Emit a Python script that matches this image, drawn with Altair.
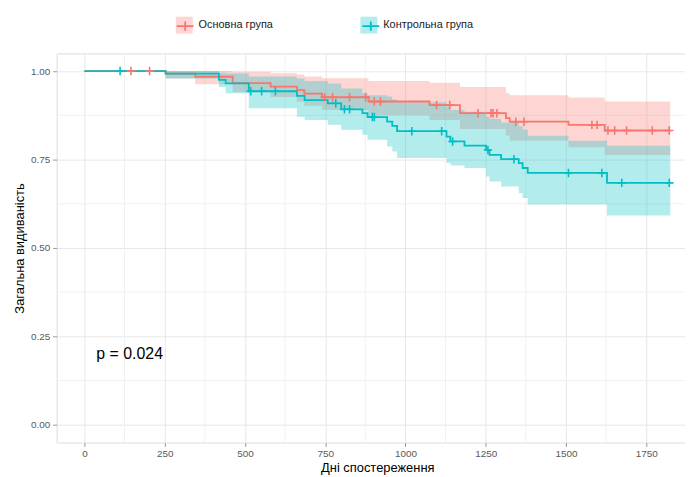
import altair as alt
import pandas as pd

# ---------------- data ----------------
GROUPS = ["Основна група", "Контрольна група"]
COLORS = ["#F8766D", "#00BFC4"]

# Основна група (red): step times, survival, confidence band
RED_T = [0, 253, 345, 462, 580, 662, 685, 740, 885, 1075, 1170, 1313, 1325, 1508, 1621, 1825]
RED_S = [1.0, 0.993, 0.984, 0.966, 0.956, 0.946, 0.936, 0.926, 0.914, 0.904, 0.881, 0.867, 0.857, 0.848, 0.832, 0.832]
RED_LO = [1.0, 0.979, 0.963, 0.940, 0.927, 0.913, 0.902, 0.890, 0.875, 0.862, 0.836, 0.818, 0.803, 0.785, 0.763, 0.763]
RED_HI = [1.0, 1.0, 1.0, 0.998, 0.994, 0.990, 0.985, 0.980, 0.972, 0.967, 0.955, 0.937, 0.932, 0.925, 0.914, 0.914]
RED_CENS = [145, 203, 748, 773, 826, 876, 903, 922, 1097, 1138, 1226, 1267, 1273, 1285,
            1344, 1369, 1581, 1597, 1631, 1652, 1689, 1769, 1822]

# Контрольна група (teal)
TEAL_T = [0, 253, 419, 440, 512, 662, 686, 758, 800, 866, 882, 943, 959, 974, 1128, 1140,
          1184, 1251, 1262, 1298, 1353, 1365, 1381, 1508, 1628, 1825]
TEAL_S = [1.0, 0.993, 0.975, 0.965, 0.943, 0.930, 0.918, 0.909, 0.892, 0.881, 0.870, 0.857, 0.845,
          0.830, 0.815, 0.801, 0.789, 0.777, 0.763, 0.751, 0.740, 0.726, 0.712, 0.712, 0.684, 0.684]
TEAL_LO = [1.0, 0.979, 0.955, 0.937, 0.895, 0.871, 0.862, 0.848, 0.834, 0.820, 0.806, 0.787, 0.773,
           0.754, 0.740, 0.733, 0.726, 0.702, 0.688, 0.674, 0.655, 0.641, 0.623, 0.623, 0.592, 0.592]
TEAL_HI = [1.0, 1.0, 0.995, 0.993, 0.985, 0.979, 0.972, 0.965, 0.951, 0.937, 0.932, 0.928, 0.920,
           0.912, 0.900, 0.890, 0.885, 0.871, 0.865, 0.855, 0.845, 0.835, 0.817, 0.803, 0.789, 0.789]
TEAL_CENS = [111, 518, 552, 595, 783, 810, 826, 897, 903, 1020, 1113, 1147, 1257, 1338,
             1508, 1612, 1674, 1822]

X_TICKS = [0, 250, 500, 750, 1000, 1250, 1500, 1750]
X_MINOR = [125, 375, 625, 875, 1125, 1375, 1625]
Y_TICKS = [0.0, 0.25, 0.5, 0.75, 1.0]
Y_MINOR = [0.125, 0.375, 0.625, 0.875]

PVAL_TEXT = ["p = 0.024"]
PVAL_X = [37]
PVAL_Y = [0.2]

X_TITLE = "Дні спостереження"
Y_TITLE = "Загальна видиваність"

# ---------------- tables ----------------
def step_value(times, vals, t):
    v = vals[0]
    for tt, vv in zip(times, vals):
        if tt <= t:
            v = vv
        else:
            break
    return v

rows = []
for g, T, S, LO, HI in [(GROUPS[0], RED_T, RED_S, RED_LO, RED_HI),
                        (GROUPS[1], TEAL_T, TEAL_S, TEAL_LO, TEAL_HI)]:
    for t, s, lo, hi in zip(T, S, LO, HI):
        rows.append({"time": t, "surv": s, "lo": lo, "hi": hi, "group": g, "group2": g})
curve = pd.DataFrame(rows)

crow = []
for g, T, S, C in [(GROUPS[0], RED_T, RED_S, RED_CENS), (GROUPS[1], TEAL_T, TEAL_S, TEAL_CENS)]:
    for c in C:
        crow.append({"time": c, "surv": step_value(T, S, c), "group2": g})
cens = pd.DataFrame(crow)

xminor = pd.DataFrame({"time": X_MINOR})
yminor = pd.DataFrame({"surv": Y_MINOR})
ptext = pd.DataFrame({"time": PVAL_X, "surv": PVAL_Y, "label": PVAL_TEXT})

# ---------------- scales / axes ----------------
FONT = "Liberation Sans"
xscale = alt.Scale(domain=[-86.6, 1871], nice=False, zero=False)
yscale = alt.Scale(domain=[-0.05, 1.05], nice=False, zero=False)

xaxis = alt.Axis(title=X_TITLE, values=X_TICKS, format="d", grid=True, gridColor="#E8E8E8",
                 gridWidth=1, domain=False, ticks=True, tickColor="#999999", tickSize=4,
                 labelColor="#595959", labelFontSize=10, labelFont=FONT, labelPadding=2,
                 titleFont=FONT, titleFontSize=13, titleFontWeight="normal", titleColor="#000000",
                 titlePadding=3, titleX=323)
yaxis = alt.Axis(title=Y_TITLE, values=Y_TICKS, format=".2f", grid=True, gridColor="#E8E8E8",
                 gridWidth=1, domain=False, ticks=True, tickColor="#999999", tickSize=4,
                 labelColor="#595959", labelFontSize=10, labelFont=FONT, labelPadding=3,
                 titleFont=FONT, titleFontSize=13, titleFontWeight="normal", titleColor="#000000",
                 titlePadding=4)

X = lambda f="time": alt.X(f"{f}:Q", scale=xscale, axis=xaxis)
Y = lambda f="surv": alt.Y(f"{f}:Q", scale=yscale, axis=yaxis)

LEG_COMMON = dict(title=None, orient="none", legendX=120, legendY=-37, direction="horizontal",
                  symbolSize=289, labelFont=FONT, labelFontSize=11, labelColor="#1A1A1A",
                  labelOffset=6, padding=0)

fill_legend = alt.Legend(symbolType="square", symbolOpacity=0.3, symbolStrokeWidth=0,
                         columnPadding=88, **LEG_COMMON)
stroke_legend = alt.Legend(symbolType="M-1,0H1M0,-0.55V0.55", symbolStrokeWidth=1.8,
                           symbolOpacity=1, labelExpr="''", columnPadding=159, **LEG_COMMON)

# ---------------- layers ----------------
minor_x = alt.Chart(xminor).mark_rule(color="#F1F1F1", strokeWidth=1).encode(x=X())
minor_y = alt.Chart(yminor).mark_rule(color="#F1F1F1", strokeWidth=1).encode(y=Y())

band = alt.Chart(curve).mark_area(interpolate="step-after", opacity=0.3).encode(
    x=X(), y=alt.Y("lo:Q", scale=yscale, axis=yaxis), y2="hi:Q",
    fill=alt.Fill("group:N", scale=alt.Scale(domain=GROUPS, range=COLORS), legend=fill_legend),
    detail="group:N",
)

line = alt.Chart(curve).mark_line(interpolate="step-after", strokeWidth=1.8).encode(
    x=X(), y=Y(),
    stroke=alt.Stroke("group2:N", sort=GROUPS, scale=alt.Scale(range=COLORS), legend=stroke_legend),
)

points = alt.Chart(cens).mark_point(shape="M-1,0H1M0,-1V1", size=72, strokeWidth=1.6,
                                    filled=False, opacity=1).encode(
    x=X(), y=Y(),
    stroke=alt.Stroke("group2:N", sort=GROUPS, scale=alt.Scale(range=COLORS), legend=stroke_legend),
)

ptxt = alt.Chart(ptext).mark_text(align="left", baseline="middle", fontSize=16, font=FONT,
                                  color="#000000").encode(x=X(), y=Y(), text="label:N")

chart = alt.layer(minor_x, minor_y, band, line, points, ptxt).properties(
    width=633, height=392,
    autosize=alt.AutoSizeParams(type="none"),
    padding={"left": 49, "top": 44, "right": 0, "bottom": 33},
).configure_view(stroke=None).configure(background="white")

chart.save("out.html", embed_options={"renderer": "svg", "actions": False})
